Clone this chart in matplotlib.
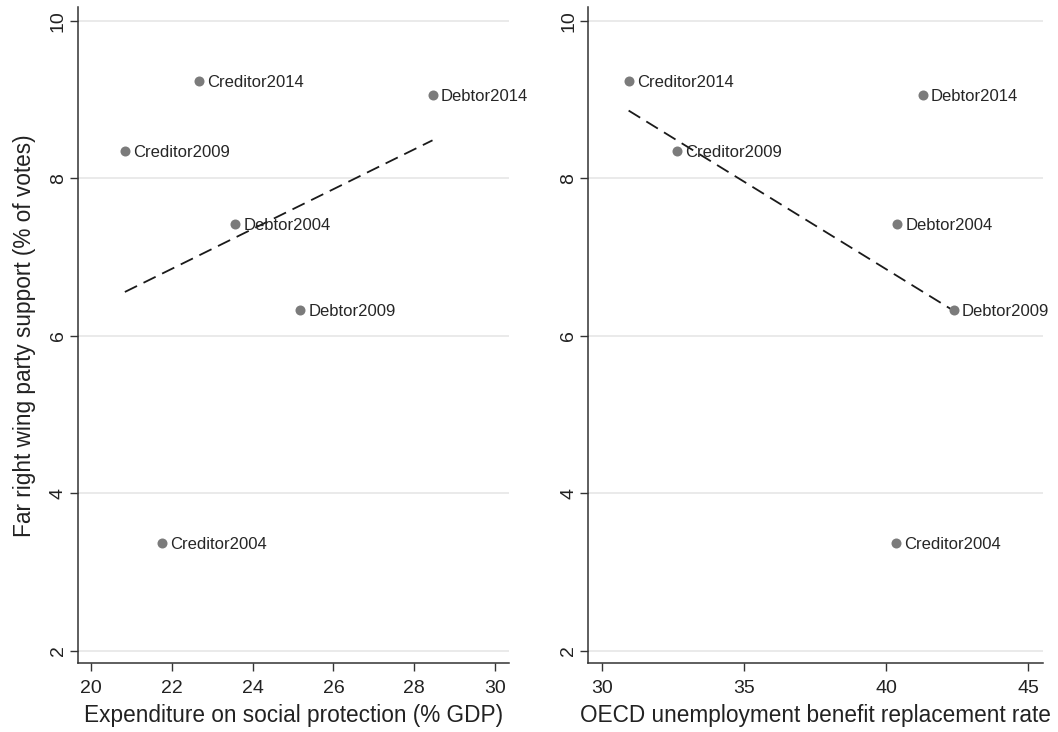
import numpy as np
import matplotlib.pyplot as plt

plt.rcParams['font.family'] = ['Liberation Sans', 'DejaVu Sans']

labels = ["Creditor2014", "Debtor2014", "Creditor2009", "Debtor2004", "Debtor2009", "Creditor2004"]
far_right = [9.23, 9.06, 8.34, 7.42, 6.32, 3.37]
social_exp = [22.67, 28.45, 20.84, 23.56, 25.18, 21.76]
replacement = [30.95, 41.29, 32.66, 40.40, 42.38, 40.34]

y_ticks = [2, 4, 6, 8, 10]
left_ticks = [20, 22, 24, 26, 28, 30]
right_ticks = [30, 35, 40, 45]

DARK = '#333333'
DOT = '#7b7b7b'

fig = plt.figure(figsize=(10.58, 7.32), dpi=100)
ax1 = fig.add_axes([0.0737, 0.0939, 0.4077, 0.8961])
ax2 = fig.add_axes([0.556, 0.0939, 0.4295, 0.8961])


def panel(ax, x, xlim, xticks, xlabel):
	x = np.array(x)
	y = np.array(far_right)
	slope, icpt = np.polyfit(x, y, 1)
	xs = np.array([x.min(), x.max()])
	ax.plot(xs, slope * xs + icpt, color='#1a1a1a', lw=1.3, dashes=(7.5, 4), zorder=3)
	ax.scatter(x, y, s=52, color=DOT, zorder=4, linewidths=0)
	for xi, yi, lab in zip(x, y, labels):
		ax.annotate(lab, (xi, yi), xytext=(6, -1), textcoords='offset points',
					va='center', ha='left', fontsize=12, color='#262626', zorder=5)
	ax.set_xlim(*xlim)
	ax.set_ylim(1.84, 10.17)
	ax.set_xticks(xticks)
	ax.set_yticks(y_ticks)
	ax.set_yticklabels([str(t) for t in y_ticks], rotation=90, va='center')
	ax.yaxis.grid(True, color='#e6e6e6', lw=1.2)
	ax.set_axisbelow(True)
	for s in ['top', 'right']:
		ax.spines[s].set_visible(False)
	for s in ['left', 'bottom']:
		ax.spines[s].set_color(DARK)
		ax.spines[s].set_linewidth(1.1)
	ax.tick_params(direction='out', length=6, width=1, color=DARK, labelcolor='#222222', labelsize=14)
	ax.tick_params(axis='x', pad=6)
	ax.tick_params(axis='y', pad=2)
	ax.set_xlabel(xlabel, fontsize=16.3, color='#222222', labelpad=5)


panel(ax1, social_exp, (19.68, 30.35), left_ticks, "Expenditure on social protection (% GDP)")
panel(ax2, replacement, (29.53, 45.51), right_ticks, "OECD unemployment benefit replacement rate")
ax1.set_ylabel("Far right wing party support (% of votes)", fontsize=16.3, color='#222222', labelpad=10)

fig.savefig('out.png', dpi=100)
